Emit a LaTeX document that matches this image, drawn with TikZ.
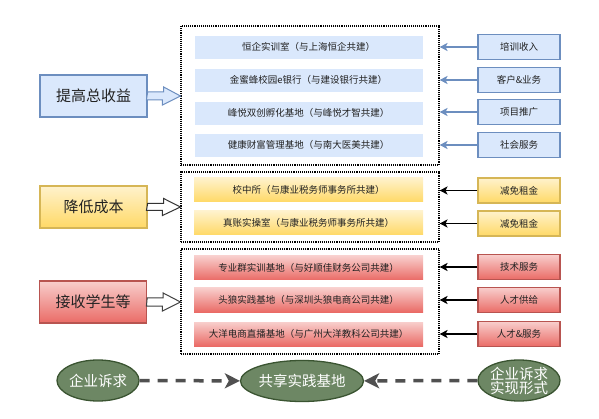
\documentclass[tikz,border=0pt]{standalone}
\usepackage{fontspec}
\setmainfont{Noto Sans CJK SC}
\usetikzlibrary{arrows.meta,shapes.geometric}

\definecolor{bfill}{HTML}{DAE8FC}
\definecolor{bline}{HTML}{6C8EBF}
\definecolor{ytop}{HTML}{FFF2CC}
\definecolor{ybot}{HTML}{FFD966}
\definecolor{yline}{HTML}{D6B656}
\definecolor{rtop}{HTML}{F8CECC}
\definecolor{rbot}{HTML}{EA6B66}
\definecolor{rline}{HTML}{B85450}
\definecolor{gfill}{HTML}{6D8764}
\definecolor{gline}{HTML}{3A5431}
\definecolor{dgray}{HTML}{505050}
\definecolor{txt}{HTML}{222222}

\tikzset{
    main/.style={draw, line width=1.3pt, minimum width=107pt, minimum height=42pt, inner sep=0pt, text=txt, font=\fontsize{15}{18}\selectfont},
    row/.style={minimum width=229pt, minimum height=24pt, inner sep=0pt, text=txt, font=\fontsize{9.5}{11}\selectfont},
    side/.style={draw, line width=1.3pt, minimum width=82pt, minimum height=25pt, inner sep=0pt, text=txt, font=\fontsize{9.5}{11}\selectfont},
    grp/.style={draw, densely dotted, line width=1.1pt, inner sep=0pt},
    bluebox/.style={fill=bfill, draw=bline},
    bluerow/.style={fill=bfill, draw=white},
    yelbox/.style={top color=ytop, bottom color=ybot, draw=yline},
    yelrow/.style={top color=ytop, bottom color=ybot},
    redbox/.style={top color=rtop, bottom color=rbot, draw=rline},
    redrow/.style={top color=rtop, bottom color=rbot},
    oval/.style={ellipse, fill=gfill, draw=gline, line width=1.3pt, inner sep=0pt, text=white, font=\fontsize{14.5}{17}\selectfont, align=center},
    barr/.style={-{Stealth[length=8pt,width=8pt,inset=2pt]}, line width=1.5pt},
    darr/.style={-{Stealth[length=15pt,width=15pt,inset=4pt]}, dgray, line width=3.5pt, dash pattern=on 10pt off 8pt},
    fat/.style={line width=1pt, line join=miter}
}

\begin{document}
\begin{tikzpicture}[x=1pt, y=-1pt]
    \useasboundingbox (0,0) rectangle (599,419);

    % left labels
    \node[main, bluebox] (t1) at (93.5,96) {提高总收益};
    \node[main, yelbox] (t2) at (93.5,207) {降低成本};
    \node[main, redbox] (t3) at (93,302) {接收学生等};

    % dotted groups
    \node[grp, minimum width=258pt, minimum height=139pt] (g1) at (310,95.5) {};
    \node[grp, minimum width=258pt, minimum height=70pt] (g2) at (310,207) {};
    \node[grp, minimum width=258pt, minimum height=105pt] (g3) at (310,301.5) {};

    % bases
    \node[row, bluerow] (b1) at (308.5,47) {恒企实训室（与上海恒企共建）};
    \node[row, bluerow] (b2) at (308.5,80) {金蜜蜂校园e银行（与建设银行共建）};
    \node[row, bluerow] (b3) at (308.5,113) {峰悦双创孵化基地（与峰悦才智共建）};
    \node[row, bluerow] (b4) at (308.5,145) {健康财富管理基地（与南大医美共建）};
    \node[row, yelrow] (y1) at (308.5,190) {校中所（与康业税务师事务所共建）};
    \node[row, yelrow] (y2) at (308.5,223) {真账实操室（与康业税务师事务所共建）};
    \node[row, redrow] (r1) at (308.5,268) {专业群实训基地（与好顺佳财务公司共建）};
    \node[row, redrow] (r2) at (308.5,300) {头狼实践基地（与深圳头狼电商公司共建）};
    \node[row, redrow] (r3) at (308.5,334) {大洋电商直播基地（与广州大洋教科公司共建）};

    % right side
    \node[side, bluebox] (s1) at (519,47) {培训收入};
    \node[side, bluebox] (s2) at (519,80) {客户\&业务};
    \node[side, bluebox] (s3) at (519,112) {项目推广};
    \node[side, bluebox] (s4) at (519,145) {社会服务};
    \node[side, yelbox] (s5) at (519,190.5) {减免租金};
    \node[side, yelbox] (s6) at (519,223.5) {减免租金};
    \node[side, redbox] (s7) at (519,267) {技术服务};
    \node[side, redbox] (s8) at (519,300) {人才供给};
    \node[side, redbox] (s9) at (519,334) {人才\&服务};

    % bottom
    \node[oval, minimum width=81pt, minimum height=41pt] (e1) at (98,380.5) {企业诉求};
    \node[oval, minimum width=106pt, minimum height=41pt] (e2) at (302,381) {共享实践基地};
    \node[oval, minimum width=82pt, minimum height=41pt] (e3) at (519,380.5) {企业诉求\\[-3pt]实现形式};

    % block arrows
    \draw[fat, fill=bfill, draw=bline] (t1.east) ++(0,-4) -- ++(16,0) -- ++(0,-5) -- (g1.west |- t1.east) -- ++(-18,9) -- ++(0,-5) -- ++(-16,0) -- cycle;
    \draw[fat, fill=white, draw=black!80] (t2.east) ++(0,-3.5) -- ++(16,0) -- ++(0,-5) -- (g2.west |- t2.east) -- ++(-18,8.5) -- ++(0,-5) -- ++(-16,0) -- cycle;
    \draw[fat, fill=white, draw=black!75] (t3.east) ++(0,-4) -- ++(16,0) -- ++(0,-5) -- (g3.west |- t3.east) -- ++(-18,9) -- ++(0,-5) -- ++(-16,0) -- cycle;

    % connectors
    \draw[barr, bline] (s1) -- (s1 -| g1.east);
    \draw[barr, bline] (s2) -- (s2 -| g1.east);
    \draw[barr, bline] (s3) -- (s3 -| g1.east);
    \draw[barr, bline] (s4) -- (s4 -| g1.east);
    \draw[barr] (s5) -- (s5 -| g2.east);
    \draw[barr] (s6) -- (s6 -| g2.east);
    \draw[barr] (s7) -- (s7 -| g3.east);
    \draw[barr] (s8) -- (s8 -| g3.east);
    \draw[barr] (s9) -- (s9 -| g3.east);

    \draw[darr] (e1) -- (e2);
    \draw[darr] (e3) -- (e2);
\end{tikzpicture}
\end{document}
